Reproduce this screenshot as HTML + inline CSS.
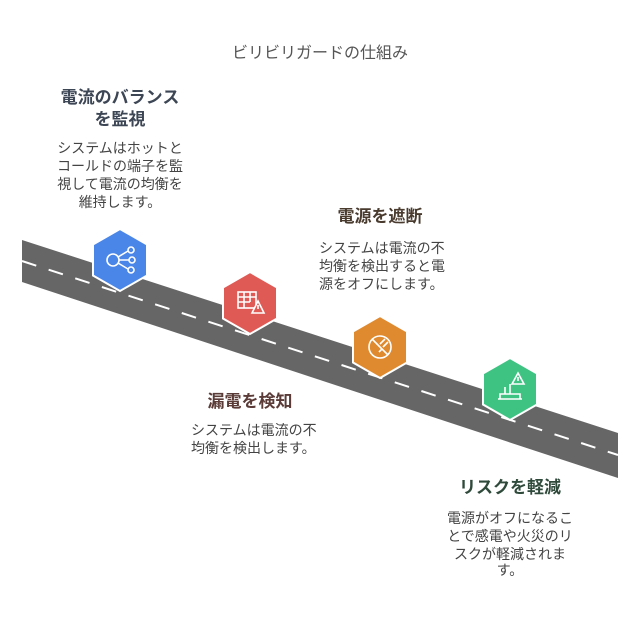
<!DOCTYPE html>
<html><head><meta charset="utf-8"><style>
html,body{margin:0;padding:0;background:#fff;}
svg{display:block;}
text{font-family:"Liberation Sans","Noto Sans CJK JP",sans-serif;}
</style></head><body>
<svg width="640" height="618" viewBox="0 0 640 618" xmlns="http://www.w3.org/2000/svg">
<text x="320" y="58" font-size="16" fill="#555" text-anchor="middle">ビリビリガードの仕組み</text>

<polygon points="22,240 618,433 618,478 22,282" fill="#666"/>
<line x1="22" y1="261" x2="618" y2="455" stroke="#fff" stroke-width="2" stroke-dasharray="15,13"/>

<g stroke="#fff" stroke-width="2">
<polygon points="120,229 147,244.5 147,275.5 120,291 93,275.5 93,244.5" fill="#4a86e8"/>
<polygon points="250,272 277,287.5 277,318.5 250,334 223,318.5 223,287.5" fill="#e05a55"/>
<polygon points="380,316 407,331.5 407,362.5 380,378 353,362.5 353,331.5" fill="#e08a30"/>
<polygon points="510,358 537,373.5 537,404.5 510,420 483,404.5 483,373.5" fill="#3fc383"/>
</g>
<g fill="none" stroke="#fff" stroke-width="1.6">
<circle cx="113" cy="260" r="6"/><circle cx="131" cy="250" r="3"/><circle cx="132" cy="260" r="3"/><circle cx="131" cy="270" r="3"/>
<path d="M119,260 L129,260 M118,257 L128,251 M118,263 L128,269"/>
<rect x="238" y="292" width="18" height="16"/><path d="M238,297 H256 M238,302 H250 M244,292 V308 M250,292 V302"/>
<path d="M258,301 L264,313 H252 Z" fill="#e05a55"/><path d="M258,305 V309"/>
<circle cx="380" cy="347" r="11"/><path d="M372,339 L388,355 M376,343 L382,349 L379,352 M380,344 L385,339 M383,347 L388,342"/>
<path d="M518,373 L524,384 H512 Z"/><path d="M518,377 V381"/>
<path d="M498,399 H522 M500,399 V394 H520 V399 M505,394 V387 M510,394 V384"/>
</g>

<g font-weight="bold" font-size="17" text-anchor="middle">
<text x="120" y="103" fill="#3c4654">電流のバランス</text>
<text x="120" y="125" fill="#3c4654">を監視</text>
<text x="380" y="222" fill="#4a3b2f">電源を遮断</text>
<text x="250" y="407" fill="#5a3b37">漏電を検知</text>
<text x="510" y="493" fill="#2f4a3b">リスクを軽減</text>
</g>
<g font-size="14" fill="#444">
<g text-anchor="middle">
<text x="120" y="153">システムはホットと</text>
<text x="120" y="171">コールドの端子を監</text>
<text x="120" y="189">視して電流の均衡を</text>
<text x="120" y="207">維持します。</text>
<text x="510" y="523">電源がオフになるこ</text>
<text x="510" y="541">とで感電や火災のリ</text>
<text x="510" y="559">スクが軽減されま</text>
<text x="510" y="575">す。</text>
</g>
<text x="319" y="253">システムは電流の不</text>
<text x="319" y="271">均衡を検出すると電</text>
<text x="319" y="289">源をオフにします。</text>
<text x="191" y="435">システムは電流の不</text>
<text x="191" y="453">均衡を検出します。</text>
</g>
</svg>
</body></html>
